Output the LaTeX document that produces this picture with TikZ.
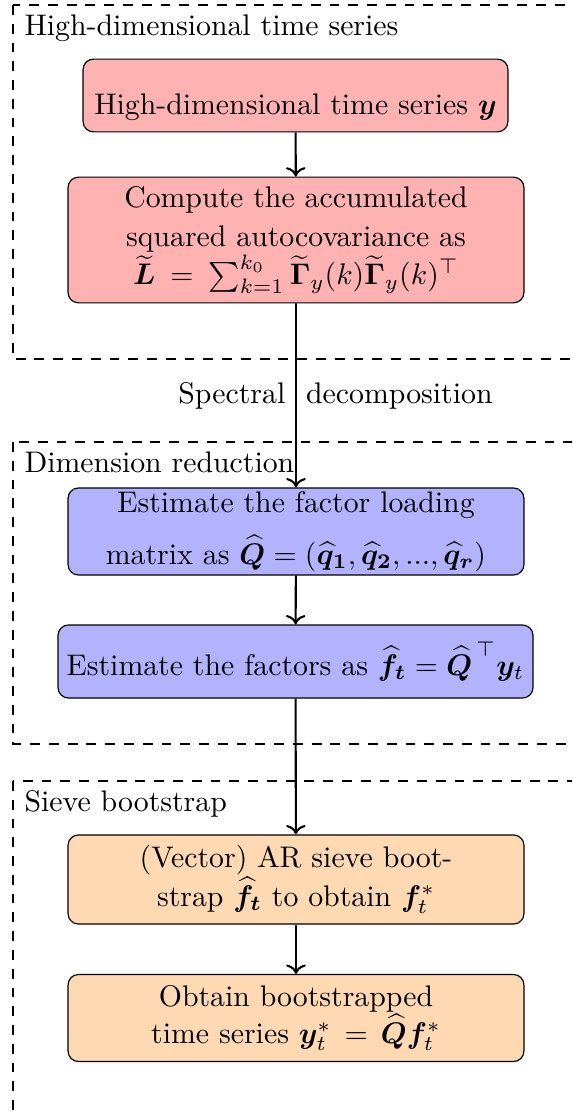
\documentclass[tikz,border=0pt]{standalone}
\usepackage{amsmath,amssymb,bm}
\usetikzlibrary{arrows.meta}
\begin{document}
\begin{tikzpicture}[x=0.3356pt,y=-0.3356pt,
  box/.style={draw=black, line width=0.4pt, rounded corners=3.5pt, align=center,
    inner sep=0pt, font=\fontsize{10}{13}\selectfont},
  redbox/.style={box, fill=red!30},
  bluebox/.style={box, fill=blue!30},
  orangebox/.style={box, fill=orange!30},
  arr/.style={-{To}, line width=0.7pt},
  group/.style={draw, dash pattern=on 3.3pt off 3pt, line width=0.4pt},
  grouplabel/.style={anchor=base west, inner sep=0pt, font=\fontsize{10}{12}\selectfont}]
\useasboundingbox (0,0) rectangle (572,1115);
\begin{scope}
  \clip (0,0) rectangle (572,1115);
  \draw[group] (13,5) rectangle (620,359);
  \draw[group] (13,442) rectangle (620,744);
  \draw[group] (13,781) rectangle (620,1160);
\end{scope}
\node[grouplabel] (lab1) at (24,35) {High-dimensional time series};
\node[grouplabel] (lab2) at (24,472) {Dimension reduction};
\node[grouplabel] (lab3) at (24,811) {Sieve bootstrap};

\node[redbox, minimum width=142.6pt, minimum height=24.4pt, text height=14.5pt, text depth=1.94pt]
  (b1) at (295.5,95.5) {High-dimensional time series $\bm{y}$};
\node[redbox, minimum width=153pt, minimum height=42.2pt]
  (b2) at (296,240) {Compute the accumulated\\ squared autocovariance as\\
  $\widetilde{\bm L}\:=\:\sum_{k=1}^{k_0}\widetilde{\bm\Gamma}_y(k)\widetilde{\bm\Gamma}_y(k)^\top$};
\node[bluebox, minimum width=153pt, minimum height=29.2pt]
  (b3) at (296,531.5) {Estimate the factor loading\\[4.4pt]
  matrix as $\widehat{\bm Q}=(\widehat{\bm q}_{\bm 1},\widehat{\bm q}_{\bm 2},...,\widehat{\bm q}_{\bm r})$};
\node[bluebox, minimum width=159.4pt, minimum height=24.5pt]
  (b4) at (295.5,661.5) {Estimate the factors as $\widehat{\bm{f_t}}=\widehat{\bm Q}^{\,\raisebox{2.6pt}{$\scriptstyle\top$}}\bm y_t$};
\node[orangebox, minimum width=153pt, minimum height=29.9pt]
  (b5) at (296,879.5) {(Vector) AR sieve boot-\\ strap $\widehat{\bm{f_t}}$ to obtain $\bm f_t^*$};
\node[orangebox, minimum width=153pt, minimum height=29.2pt]
  (b6) at (296,1018) {Obtain bootstrapped\\[-0.6pt] time series $\bm y_t^*\,=\,\widehat{\bm Q}\bm f_t^*$};

\node[anchor=base, inner sep=0pt, font=\fontsize{10}{12}\selectfont] (spec) at (335.5,403)
  {Spectral\hspace{7pt}decomposition};

\draw[arr] (b1) -- (b2);
\draw[arr] (b2) -- (b3);
\draw[arr] (b3) -- (b4);
\draw[arr] (b4) -- (b5);
\draw[arr] (b5) -- (b6);
\end{tikzpicture}
\end{document}
